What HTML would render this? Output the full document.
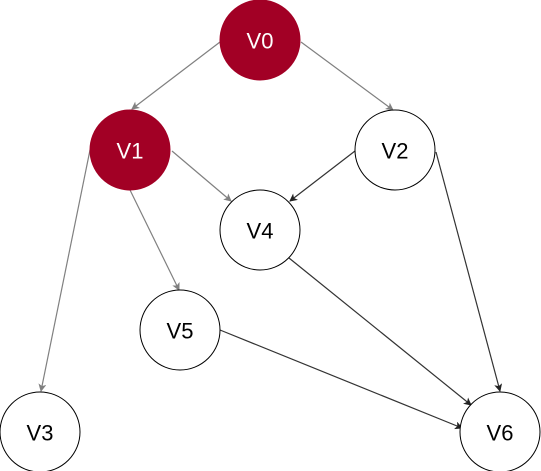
<!DOCTYPE html>
<html><head><style>body{margin:0;background:#fff}svg{display:block}</style></head><body>
<svg width="541" height="471" viewBox="0 0 541 471" xmlns="http://www.w3.org/2000/svg" font-family="Liberation Sans, sans-serif">
<defs>
<marker id="g" markerWidth="8" markerHeight="8" refX="7" refY="4" orient="auto" markerUnits="userSpaceOnUse"><path d="M0,0 L8,4 L0,8 L2,4 Z" fill="#808080"/></marker>
<marker id="d" markerWidth="8" markerHeight="8" refX="7" refY="4" orient="auto" markerUnits="userSpaceOnUse"><path d="M0,0 L8,4 L0,8 L2,4 Z" fill="#222"/></marker>
</defs>
<g stroke="#808080" stroke-width="1.2" fill="none" marker-end="url(#g)">
<line x1="220" y1="42" x2="132" y2="109"/>
<line x1="301" y1="42" x2="393" y2="110"/>
<line x1="172" y1="151" x2="231" y2="201"/>
<line x1="130" y1="190" x2="179" y2="290"/>
<line x1="90" y1="150" x2="41" y2="391"/>
</g>
<g stroke="#333" stroke-width="1.2" fill="none" marker-end="url(#d)">
<line x1="355" y1="151" x2="290" y2="201"/>
<line x1="436" y1="152" x2="500" y2="391"/>
<line x1="289" y1="258" x2="471" y2="405"/>
<line x1="220" y1="330" x2="462" y2="428"/>
</g>
<g stroke="#000" stroke-width="1" fill="#fff">
<circle cx="260" cy="40" r="40" fill="#A20025" stroke="#A20025"/>
<circle cx="130" cy="150" r="40" fill="#A20025" stroke="#A20025"/>
<circle cx="395" cy="150" r="40"/>
<circle cx="260" cy="230" r="40"/>
<circle cx="180" cy="330" r="40"/>
<circle cx="40" cy="432" r="40"/>
<circle cx="500" cy="432" r="40"/>
</g>
<g font-size="22" text-anchor="middle" dominant-baseline="central">
<text x="260" y="41" fill="#fff">V0</text>
<text x="130" y="151" fill="#fff">V1</text>
<text x="395" y="151" fill="#000">V2</text>
<text x="260" y="231" fill="#000">V4</text>
<text x="180" y="331" fill="#000">V5</text>
<text x="40" y="433" fill="#000">V3</text>
<text x="500" y="433" fill="#000">V6</text>
</g>
</svg>
</body></html>
